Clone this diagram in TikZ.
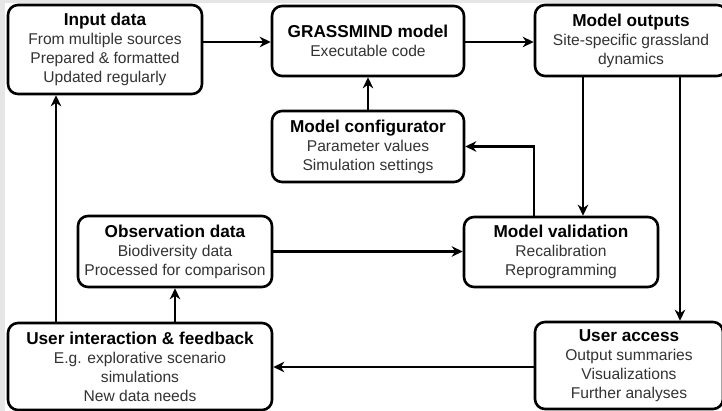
\documentclass[tikz,border=0pt]{standalone}
\usepackage{fontspec}
\setmainfont{Liberation Sans}
\usetikzlibrary{arrows.meta,calc}
\definecolor{bodytxt}{HTML}{333333}
\definecolor{framegrey}{HTML}{E6E6E6}
\newcommand{\ttl}[1]{{\fontsize{17.2}{19}\selectfont\bfseries\color{black}#1}}
\tikzset{
  box/.style={draw=black, line width=2.6pt, rounded corners=10pt, fill=white,
    align=center, inner sep=0pt, text=bodytxt,
    font=\fontsize{15.6}{19}\selectfont},
  conn/.style={line width=2.5pt, -{Stealth[length=11pt,width=10.5pt,inset=3.5pt]}},
}
\begin{document}
\begin{tikzpicture}[x=1pt,y=-1pt]
\useasboundingbox (0,0) rectangle (722,411);
\fill[framegrey] (0,0) rectangle (722,3);
\fill[framegrey] (0,0) rectangle (5,411);
\begin{scope}
\clip (0,0) rectangle (722,411);
\node[box, minimum width=194pt, minimum height=89pt] (input) at (105,49.5)
  {\ttl{Input data}\\From multiple sources\\Prepared \& formatted\\Updated regularly};
\node[box, minimum width=192pt, minimum height=70pt] (grass) at (368,41)
  {\ttl{GRASSMIND model}\\Executable code};
\node[box, minimum width=192pt, minimum height=71pt] (out) at (631,40.5)
  {\ttl{Model outputs}\\Site-specific grassland\\dynamics};
\node[box, minimum width=192pt, minimum height=71pt] (conf) at (368,146.5)
  {\ttl{Model configurator}\\Parameter values\\Simulation settings};
\node[box, minimum width=194pt, minimum height=71pt] (obs) at (175,251.5)
  {\ttl{Observation data}\\Biodiversity data\\Processed for comparison};
\node[box, minimum width=194pt, minimum height=70pt] (val) at (561,252)
  {\ttl{Model validation}\\Recalibration\\Reprogramming};
\node[box, minimum width=264pt, minimum height=87pt] (ui) at (140,366.5)
  {\ttl{User interaction \& feedback}\\E.g. explorative scenario\\simulations\\New data needs};
\node[box, minimum width=188pt, minimum height=87pt] (acc) at (629,365.5)
  {\ttl{User access}\\Output summaries\\Visualizations\\Further analyses};
\end{scope}
\coordinate (ovx) at (583,0);
\coordinate (oax) at (680,0);
\coordinate (vcx) at (534,0);
\coordinate (uix) at (56,0);
\coordinate (iny) at (0,42);
\coordinate (accy) at (0,367);
\draw[conn] (input.east |- iny) -- (grass.west |- iny);
\draw[conn] (grass.east |- iny) -- (out.west |- iny);
\draw[conn] (conf.north) -- (grass.south);
\draw[conn] (val.north -| vcx) |- (conf.east);
\draw[conn] (out.south -| ovx) -- (val.north -| ovx);
\draw[conn] (out.south -| oax) -- (acc.north -| oax);
\draw[conn] (acc.west |- accy) -- (ui.east |- accy);
\draw[conn] (ui.north -| obs.south) -- (obs.south);
\draw[conn] (ui.north -| uix) -- (input.south -| uix);
\draw[conn] (obs.east) -- (val.west |- obs.east);
\end{tikzpicture}
\end{document}
